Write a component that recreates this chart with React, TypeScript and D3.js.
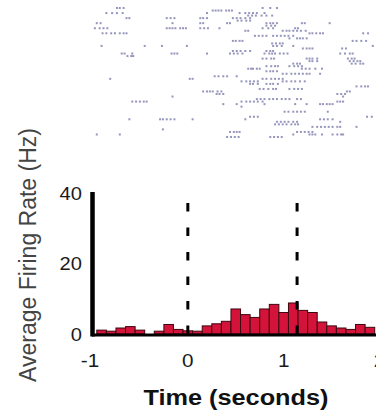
import React, { useEffect, useRef } from "react";
import * as d3 from "d3";

// Histogram bins (bin centres, seconds) and average firing rate (Hz)
const binCenters = [
  -0.9, -0.8, -0.7, -0.6, -0.5, -0.4, -0.3, -0.2, -0.1, 0.0, 0.1, 0.2, 0.3, 0.4, 0.5,
  0.6, 0.7, 0.8, 0.9, 1.0, 1.1, 1.2, 1.3, 1.4, 1.5, 1.6, 1.7, 1.8, 1.9,
];
const rates = [
  1.1, 0.8, 1.7, 2.1, 1.1, 0, 0.8, 2.7, 1.3, 0.9, 0.8, 2.3, 2.9, 3.6, 7.1,
  5.5, 4.7, 7.1, 8.4, 6.1, 8.8, 6.7, 6.1, 3.4, 2.3, 1.7, 1.3, 2.7, 1.9,
];
const binWidth = 0.1;

const timeTicks = [-1, 0, 1, 2];
const rateTicks = [0, 20, 40];
const eventTimes = [0, 1.14];

// Spike raster: one array of spike times (s) per trial
const trials: number[][] = [
  [-0.74, -0.71, -0.67, 0.78, 0.86, 0.93],
  [0.26, 0.29, 0.32, 0.35, 0.4, 0.43, 0.46],
  [-0.85, -0.79, -0.74, -0.68, 0.2, 0.54, 0.6, 0.64, 0.68, 0.72, 0.8],
  [0.63, 0.67, 0.71, 0.77, 0.82, 0.88],
  [-0.64, -0.61, -0.22, -0.18, -0.14, 0.13, 0.16, 0.2, 0.47, 0.51, 0.55, 0.6, 0.65],
  [0.52, 0.56, 0.61, 0.65],
  [-0.95, -0.91, -0.16, 0.13, 0.16, 0.41, 0.44, 0.82, 0.86, 0.89, 0.93, 1.19, 1.22, 1.48],
  [0.82, 0.87, 0.91],
  [-0.97, -0.92, -0.88, -0.84, -0.22, -0.19, -0.16, -0.13, -0.08, -0.05, -0.02, 0.13, 0.17, 0.21, 0.33, 0.78, 0.84, 0.89, 1.12, 1.15],
  [0.6, 0.63, 0.99, 1.03, 1.06, 1.1, 1.14, 1.18, 1.23],
  [-0.89, -0.85, -0.8, -0.76, -0.71, -0.67, -0.64, 1.27, 1.3, 1.34, 1.38, 1.41, 1.83, 1.88],
  [0.7, 0.74, 0.78, 0.82, 0.89, 0.93, 0.97, 1.01, 1.05, 1.1],
  [1.06, 1.14, 1.17, 1.2, 1.24],
  [0.47, 0.5, 0.54, 0.57, 1.72, 1.76, 1.81, 1.86],
  [0.88, 0.92, 0.96, 0.99],
  [-0.9, -0.45, -0.27, -0.01, 0.89, 0.93, 0.98, 1.1, 1.93],
  [1.2, 1.24, 1.27, 1.3, 1.61, 1.65],
  [0.47, 0.51, 0.55, 0.6, 0.65, 0.82, 0.86, 0.89],
  [-0.69, -0.66, -0.58, -0.17, -0.14, -0.11, 0.2, 0.44, 0.48, 0.52, 0.57, 0.8, 0.85, 0.88, 0.91, 0.96, 1.0, 1.04, 1.59, 1.64, 1.69, 1.72],
  [-0.63, -0.59, -0.57],
  [0.78, 0.82, 0.87, 0.9, 1.24, 1.27, 1.3, 1.35, 1.67, 1.71, 1.74],
  [1.27, 1.3, 1.35, 1.69, 1.73, 1.77, 1.8],
  [1.1, 1.14, 1.17, 1.71, 1.75, 1.8, 1.83],
  [0.82, 0.87, 0.91, 0.94, 1.06, 1.11, 1.15, 1.19],
  [0.63, 0.66, 0.68, 0.72, 0.75, 1.19, 1.23, 1.27, 1.33, 1.4],
  [0.82, 0.86, 0.89, 0.93],
  [0.99, 1.03, 1.08, 1.12, 1.16, 1.2, 1.24, 1.27, 1.38],
  [0.28, 0.32, 0.37, 0.41, 0.51],
  [-0.81, 0.02, 0.05, 0.78, 0.82, 0.87, 0.91, 0.95, 0.99],
  [0.56, 0.61, 0.65, 0.69, 0.73, 0.99, 1.03, 1.08, 1.12, 1.17, 1.22],
  [0.65, 0.68, 0.73, 0.82, 0.86, 0.89, 0.94],
  [1.76, 1.81, 1.85, 1.88],
  [0.75, 0.79, 0.84, 0.89, 0.92, 1.06, 1.11, 1.15, 1.19],
  [0.16, 0.2, 0.23, 0.26, 0.31, 0.35, 1.66, 1.69],
  [0.3, 0.33, 0.37, 1.56, 1.6, 1.64],
  [-0.16, 1.62],
  [0.72, 0.76, 0.8, 0.85, 0.89, 0.93, 0.98, 1.02, 1.06, 1.14, 1.18],
  [-0.58, -0.54, -0.5, -0.46, -0.43, 0.56, 0.61, 0.65, 0.69, 0.73, 0.78, 1.56, 1.59, 1.62],
  [0.37, 0.51, 0.8, 1.12, 1.24, 1.38, 1.41, 1.45, 1.48, 1.51],
  [0.56],
  [],
  [1.01, 1.05, 1.1, 1.14, 1.18, 1.22, 1.46],
  [],
  [0.65, 0.69, 0.73, 1.87, 1.92],
  [-0.61, -0.29, -0.26, -0.22, -0.18, -0.14, 0.05, 0.6, 1.38, 1.42, 1.46, 1.51],
  [0.93, 0.97, 1.01, 1.05, 1.1, 1.14, 1.59],
  [0.91, 0.95, 0.99, 1.03, 1.08, 1.12, 1.15],
  [1.3, 1.35, 1.39, 1.43, 1.47, 1.51, 1.56, 1.59, 1.76],
  [-0.26],
  [0.44, 0.48, 0.51, 0.54, 1.14, 1.18, 1.22, 1.26, 1.3],
  [-0.95, -0.71, 1.1, 1.27, 1.3, 1.33, 1.4, 1.51, 1.56, 1.6, 1.62],
  [0.41, 0.45, 0.49, 0.53, 0.86, 0.9, 0.94, 0.98],
];

const App = () => {
  const width = 376;
  const height = 415;
  const svgRef = useRef<SVGSVGElement | null>(null);

  useEffect(() => {
    if (!svgRef.current) return;
    const svg = d3.select(svgRef.current);
    svg.selectAll("*").remove();

    const font = "'Liberation Sans', Arial, Helvetica, sans-serif";
    const stretch = 1.15; // the picture is a bit wider than normal glyphs

    const x = d3.scaleLinear().domain([-1, 2]).range([92, 379.5]);
    const y = d3.scaleLinear().domain([0, 40]).range([334, 193]);
    const row = d3
      .scaleLinear()
      .domain([0, trials.length - 1])
      .range([8, 137]);

    // raster
    const spikes = trials.flatMap((times, i) => times.map((t) => ({ t, i })));
    svg
      .append("g")
      .selectAll("rect")
      .data(spikes)
      .join("rect")
      .attr("x", (d) => x(d.t) - 1)
      .attr("y", (d) => row(d.i) - 1)
      .attr("width", 2)
      .attr("height", 2)
      .attr("fill", "#3f3f86")
      .attr("opacity", 0.55);

    // histogram bars
    const bins = binCenters.map((c, i) => ({ c, v: rates[i] }));
    svg
      .append("g")
      .selectAll("rect")
      .data(bins.filter((d) => d.v > 0))
      .join("rect")
      .attr("x", (d) => x(d.c - binWidth / 2))
      .attr("y", (d) => y(d.v))
      .attr("width", (d) => x(d.c + binWidth / 2) - x(d.c - binWidth / 2))
      .attr("height", (d) => y(0) - y(d.v))
      .attr("fill", "#d3133a")
      .attr("stroke", "#3d0810")
      .attr("stroke-width", 1);

    // event markers
    svg
      .append("g")
      .selectAll("line")
      .data(eventTimes)
      .join("line")
      .attr("x1", (d) => x(d))
      .attr("x2", (d) => x(d))
      .attr("y1", 203)
      .attr("y2", y(0))
      .attr("stroke", "#000")
      .attr("stroke-width", 3)
      .attr("stroke-dasharray", "8.5 16");

    // axis lines
    svg
      .append("line")
      .attr("x1", x(-1) + 0.5)
      .attr("x2", x(-1) + 0.5)
      .attr("y1", y(40) - 1)
      .attr("y2", y(0) + 2.5)
      .attr("stroke", "#000")
      .attr("stroke-width", 4.5);
    svg
      .append("line")
      .attr("x1", x(-1))
      .attr("x2", width)
      .attr("y1", y(0) + 1)
      .attr("y2", y(0) + 1)
      .attr("stroke", "#000")
      .attr("stroke-width", 3);

    // y tick labels
    svg
      .append("g")
      .selectAll("text")
      .data(rateTicks)
      .join("text")
      .attr("transform", (d) => `translate(82,${y(d) + 6.5}) scale(${stretch},1)`)
      .attr("text-anchor", "end")
      .attr("font-family", font)
      .attr("font-size", 17.5)
      .attr("fill", "#1a1a1a")
      .text((d) => d);

    // x tick labels
    svg
      .append("g")
      .selectAll("text")
      .data(timeTicks)
      .join("text")
      .attr("transform", (d) => `translate(${x(d) - (d < 0 ? 2 : 0)},367) scale(${stretch},1)`)
      .attr("text-anchor", "middle")
      .attr("font-family", font)
      .attr("font-size", 18)
      .attr("fill", "#1a1a1a")
      .text((d) => d);

    // x label
    svg
      .append("text")
      .attr("transform", `translate(236,405) scale(${stretch},1)`)
      .attr("text-anchor", "middle")
      .attr("font-family", font)
      .attr("font-size", 22)
      .attr("font-weight", "bold")
      .attr("fill", "#111")
      .text("Time (seconds)");

    // y label
    svg
      .append("text")
      .attr("transform", `translate(36,255) scale(1.08,1) rotate(-90)`)
      .attr("text-anchor", "middle")
      .attr("font-family", font)
      .attr("font-size", 23)
      .attr("fill", "#444")
      .text("Average Firing Rate (Hz)");
  }, []);

  return (
    <div style={{ position: "absolute", left: 0, top: 0 }}>
      <svg ref={svgRef} width={width} height={height} style={{ display: "block", background: "#fff" }}></svg>
    </div>
  );
};

export default App;
